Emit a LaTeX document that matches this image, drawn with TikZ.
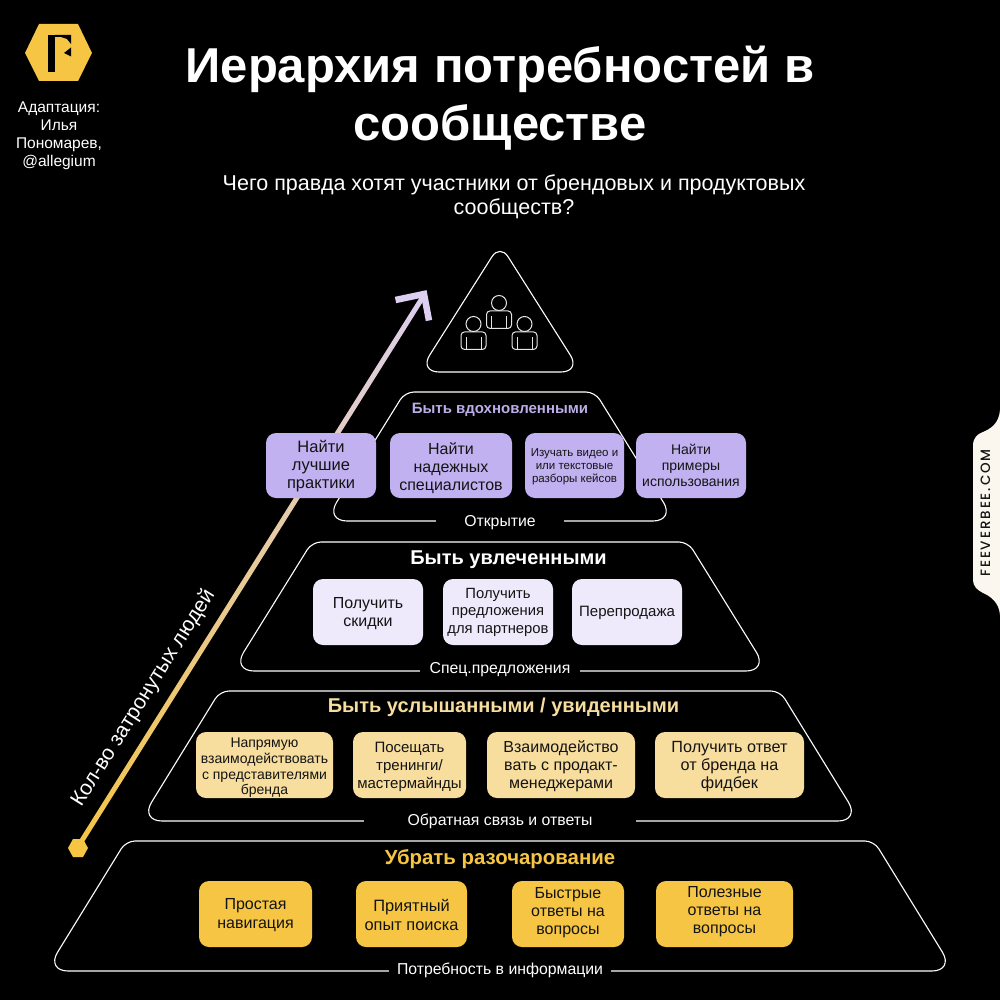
\documentclass[tikz,border=0pt]{standalone}
\usepackage{fontspec}
\setmainfont{Liberation Sans}
\newfontfamily\tabfont[LetterSpace=14]{Poppins Medium}
\definecolor{gold}{HTML}{F5C543}
\definecolor{sand}{HTML}{F7DD9E}
\definecolor{pale}{HTML}{EFEAFB}
\definecolor{lav}{HTML}{C2B1F0}
\definecolor{lavtext}{HTML}{BDAEEA}
\definecolor{lavarrow}{HTML}{DCCFF0}
\definecolor{ink}{HTML}{141414}
\definecolor{cream}{HTML}{FBF7EE}
\tikzset{
  x=1pt,y=-1pt,
  tier/.style={draw=white,line width=1.1pt},
  chip/.style={rounded corners=10pt,inner sep=0pt},
  chiptext/.style={inner sep=0pt,text=ink,align=center,font=\fontsize{16}{18}\selectfont},
  tiertitle/.style={font=\bfseries\fontsize{20}{23}\selectfont},
  tierfoot/.style={fill=black,text=white,inner xsep=0pt,inner ysep=2pt,font=\fontsize{15.8}{18}\selectfont},
  person/.style={draw=white!90!black,line width=1pt},
}
\newcommand{\chipat}[8]{% name, x0, x1, y0, y1, fill, text style, text
  \node[chip,fill=#6,minimum width=#3pt-#2pt,minimum height=#5pt-#4pt] (#1) at ({(#2+#3)/2},{(#4+#5)/2}) {};
  \node[chiptext,#7] (#1t) at (#1.center) {#8};}
\newcommand{\personicon}[3]{% cx, cy head, name
  \node[person,circle,minimum size=15pt,inner sep=0pt] (#3h) at (#1,#2) {};
  \node[person,rounded corners=3.5pt,minimum width=25pt,minimum height=17.5pt,inner sep=0pt] (#3b) at (#1,#2+16.7) {};
  \draw[person] (#1-7.5,#2+13) -- (#1-7.5,#2+25.5) (#1+7.5,#2+13) -- (#1+7.5,#2+25.5);}
\newcommand{\tiershape}[4]{% top half width, bottom half width, y top, y bottom
  \draw[tier] (500,#3) [rounded corners=9pt] -- (500+#1,#3) [rounded corners=22pt] -- (500+#2,#4) -- (500-#2,#4)
     [rounded corners=9pt] -- (500-#1,#3) -- (500,#3);}
\begin{document}
\begin{tikzpicture}
\fill[black] (0,0) rectangle (1000,1000);
\useasboundingbox (0,0) rectangle (1000,1000);

% logo
\fill[gold] (25,53) -- (39,24) -- (78,24) -- (92,53) -- (78,81) -- (39,81) -- cycle;
\fill[black] (48,35) rectangle (55,72);
\fill[black] (55,35) -- (71,35) -- (71,44) -- (67,39) -- (61,37) -- (55,37) -- cycle;
\fill[black] (64,53) -- (71,47.5) -- (71,56.5) -- cycle;
\node[text=white,align=center,font=\fontsize{15.5}{18}\selectfont] (credit) at (59,136) {Адаптация:\\Илья\\Пономарев,\\@allegium};

% heading
\node[text=white,align=center,font=\bfseries\fontsize{49}{58}\selectfont] (title) at (500,98) {Иерархия потребностей в\\сообществе};
\node[text=white,align=center,font=\fontsize{21.5}{24}\selectfont] (subtitle) at (514,196.5) {Чего правда хотят участники от брендовых и продуктовых\\сообществ?};

% tab
\fill[cream] (1000,410) .. controls (999,424) and (990,429) .. (983,432) .. controls (977,434) and (973,438) .. (973,446)
  -- (973,580) .. controls (973,586) and (977,590) .. (983,593) .. controls (990,596) and (999,602) .. (1000,615) -- cycle;
\node[rotate=90,text=ink,font=\fontsize{13.5}{14}\selectfont\tabfont] (tab) at (985.5,513) {FEEVERBEE.COM};

% pyramid tiers
\draw[tier] (500,372) [rounded corners=20pt] -- (419,372) [rounded corners=15pt] -- (500,244) [rounded corners=20pt] -- (581,372) -- (500,372);
\tiershape{95}{175}{392}{521}
\tiershape{188}{268}{542}{671}
\tiershape{280}{360}{691}{821}
\tiershape{374}{454}{841}{971}

% people
\personicon{499}{303}{pa}
\personicon{473.5}{324}{pb}
\personicon{524.5}{324}{pc}

% growth arrow
\fill[gold] (68,848) -- (73,839) -- (83,839) -- (88,848) -- (83,857) -- (73,857) -- cycle;
\coordinate (tip) at (424,294);
\node[rotate=57.9,minimum width=650pt,minimum height=5pt,inner sep=0pt,
      left color=gold,middle color=sand!75!lavarrow,right color=lavarrow] (shaft) at (251,571) {};
\draw[lavarrow,line width=6.5pt,miter limit=10] (395.5,300) -- (tip) -- (429,320.5);
\node[rotate=57.9,text=white,font=\fontsize{21}{24}\selectfont] (axis) at (143.5,698) {Кол-во затронутых людей};

% tier titles and feet
\node[tiertitle,text=lavtext,font=\bfseries\fontsize{15}{17}\selectfont] (t4) at (500,409.5) {Быть вдохновленными};
\node[tiertitle,text=white] (t3) at (508.5,560) {Быть увлеченными};
\node[tiertitle,text=sand] (t2) at (503.5,707) {Быть услышанными / увиденными};
\node[tiertitle,text=gold,font=\bfseries\fontsize{20.4}{23}\selectfont] (t1) at (500,859) {Убрать разочарование};
\node[tierfoot,minimum width=128pt] (f4) at (500,522.5) {Открытие};
\node[tierfoot,minimum width=160pt] (f3) at (500,669.5) {Спец.предложения};
\node[tierfoot,minimum width=272pt] (f2) at (500,821.5) {Обратная связь и ответы};
\node[tierfoot,minimum width=222pt] (f1) at (500,970.5) {Потребность в информации};

% top row
\chipat{a1}{266}{376}{433}{498}{lav}{yshift=-1pt,font=\fontsize{16.5}{18}\selectfont}{Найти\\лучшие\\практики}
\chipat{a2}{390}{512}{433}{498}{lav}{yshift=-2.5pt,font=\fontsize{16}{18}\selectfont}{Найти\\надежных\\специалистов}
\chipat{a3}{525}{624}{433}{498}{lav}{yshift=-1.5pt,font=\fontsize{11.5}{13}\selectfont}{Изучать видео и\\или текстовые\\разборы кейсов}
\chipat{a4}{636}{746}{433}{498}{lav}{font=\fontsize{14}{16}\selectfont}{Найти\\примеры\\использования}
% third row
\chipat{b1}{313}{423}{579}{645}{pale}{yshift=-2pt}{Получить\\скидки}
\chipat{b2}{443}{553}{579}{645}{pale}{font=\fontsize{14.8}{17.5}\selectfont}{Получить\\предложения\\для партнеров}
\chipat{b3}{572}{682}{579}{645}{pale}{yshift=-1pt,font=\fontsize{15}{18}\selectfont}{Перепродажа}
% second row
\chipat{c1}{196}{333}{732}{798}{sand}{yshift=-3pt,font=\fontsize{14}{15.7}\selectfont}{Напрямую\\взаимодействовать\\с представителями\\бренда}
\chipat{c2}{353}{466}{732}{798}{sand}{yshift=-1.5pt,font=\fontsize{15}{18}\selectfont}{Посещать\\тренинги/\\мастермайнды}
\chipat{c3}{487}{635}{732}{798}{sand}{yshift=-1pt}{Взаимодейство\\вать с продакт-\\менеджерами}
\chipat{c4}{655}{804}{732}{798}{sand}{yshift=-2pt,font=\fontsize{16.2}{18}\selectfont}{Получить ответ\\от бренда на\\фидбек}
% bottom row
\chipat{d1}{199}{312}{881}{947}{gold}{yshift=-1.5pt,font=\fontsize{16}{19}\selectfont}{Простая\\навигация}
\chipat{d2}{356}{467}{881}{947}{gold}{yshift=-1pt,font=\fontsize{16.4}{19}\selectfont}{Приятный\\опыт поиска}
\chipat{d3}{512}{624}{881}{947}{gold}{yshift=1pt}{Быстрые\\ответы на\\вопросы}
\chipat{d4}{656}{793}{881}{947}{gold}{yshift=2pt}{Полезные\\ответы на\\вопросы}
\end{tikzpicture}
\end{document}
